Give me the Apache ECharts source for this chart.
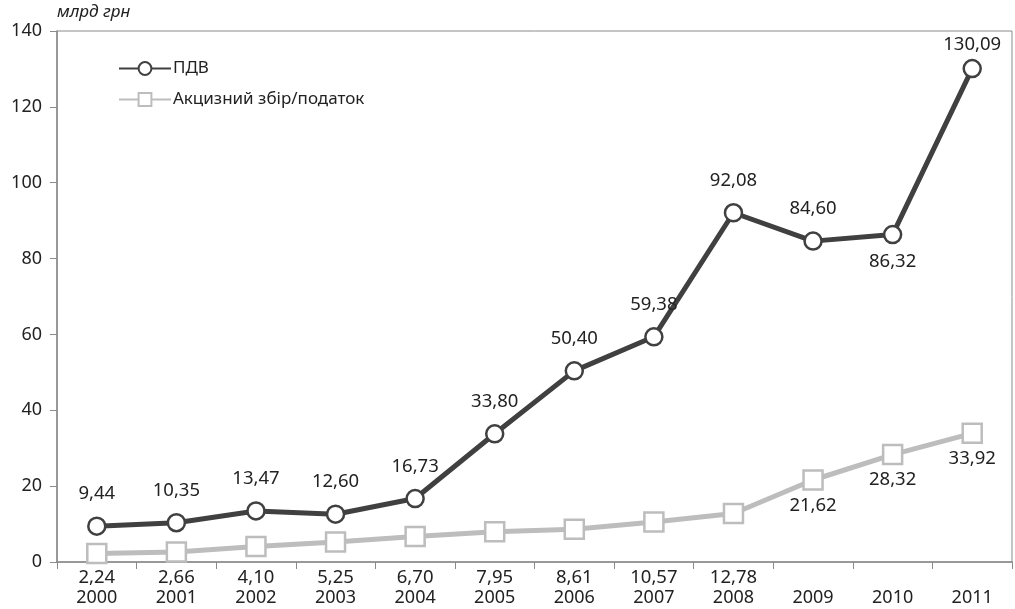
<!DOCTYPE html>
<html>
<head>
<meta charset="utf-8">
<script src="https://cdn.jsdelivr.net/npm/echarts@6/dist/echarts.min.js"></script>
<style>
  html, body { margin: 0; padding: 0; background: #fff; }
  #chart { width: 1015px; height: 609px; }
</style>
</head>
<body>
<div id="chart"></div>
<script>
const years = ['2000', '2001', '2002', '2003', '2004', '2005', '2006', '2007', '2008', '2009', '2010', '2011'];
const vat = [9.44, 10.35, 13.47, 12.60, 16.73, 33.80, 50.40, 59.38, 92.08, 84.60, 86.32, 130.09];
const excise = [2.24, 2.66, 4.10, 5.25, 6.70, 7.95, 8.61, 10.57, 12.78, 21.62, 28.32, 33.92];

const FONT = '"Noto Sans", sans-serif';
const fmt = p => p.value.toFixed(2).replace('.', ',');

const chart = echarts.init(document.getElementById('chart'));

const options = {
  animation: false,
  textStyle: { fontFamily: FONT },
  grid: {
    left: 57, right: 3, top: 31, bottom: 47,
    show: true, borderColor: '#8a8a8a', borderWidth: 1
  },
  legend: {
    orient: 'vertical',
    left: 113, top: 55,
    itemWidth: 52, itemHeight: 16, itemGap: 14,
    textStyle: { fontSize: 17, color: '#222', fontFamily: FONT, padding: [0, 0, 0, -3] },
    data: ['ПДВ', 'Акцизний збір/податок']
  },
  xAxis: {
    type: 'category',
    data: years,
    boundaryGap: true,
    axisLine: { lineStyle: { color: '#8a8a8a', width: 1.5 } },
    axisTick: { show: true, length: 7, lineStyle: { color: '#8a8a8a' } },
    axisLabel: { color: '#222', fontSize: 18, margin: 27, fontFamily: FONT }
  },
  yAxis: {
    type: 'value',
    min: 0, max: 140, interval: 20,
    name: 'млрд грн',
    nameLocation: 'end',
    nameGap: 10,
    nameTextStyle: { fontStyle: 'italic', fontSize: 17, color: '#222', align: 'left', padding: [0, 0, 0, 0] },
    splitLine: { show: false },
    axisLine: { show: true, lineStyle: { color: '#8a8a8a', width: 1.5 } },
    axisTick: { show: true, length: 7, lineStyle: { color: '#8a8a8a' } },
    axisLabel: { color: '#222', fontSize: 18, margin: 15, fontFamily: FONT }
  },
  series: [
    {
      name: 'ПДВ',
      type: 'line',
      data: vat.map((v, i) => ({
        value: v,
        label: i === 10 ? { position: 'bottom', distance: 8 } : (i === 11 ? { distance: 5 } : undefined)
      })),
      symbol: 'circle',
      symbolSize: 17,
      lineStyle: { color: '#404040', width: 5 },
      itemStyle: { color: '#fff', borderColor: '#404040', borderWidth: 2.5 },
      label: {
        show: true, position: 'top', distance: 13,
        formatter: fmt, color: '#222', fontSize: 18.5, fontFamily: FONT
      },
      z: 3
    },
    {
      name: 'Акцизний збір/податок',
      type: 'line',
      data: excise,
      symbol: 'rect',
      symbolSize: 19,
      lineStyle: { color: '#bdbdbd', width: 5 },
      itemStyle: { color: '#fff', borderColor: '#bdbdbd', borderWidth: 2.5 },
      label: {
        show: true, position: 'bottom', distance: 5,
        formatter: fmt, color: '#222', fontSize: 18.5, fontFamily: FONT
      },
      labelLayout: function (params) {
        // the early labels sit in one row just under the axis
        if (params.dataIndex <= 8) {
          const r = params.labelRect;
          return { dy: 578 - (r.y + r.height / 2) };
        }
        return {};
      },
      z: 2
    }
  ]
};

chart.setOption(options);
</script>
</body>
</html>
